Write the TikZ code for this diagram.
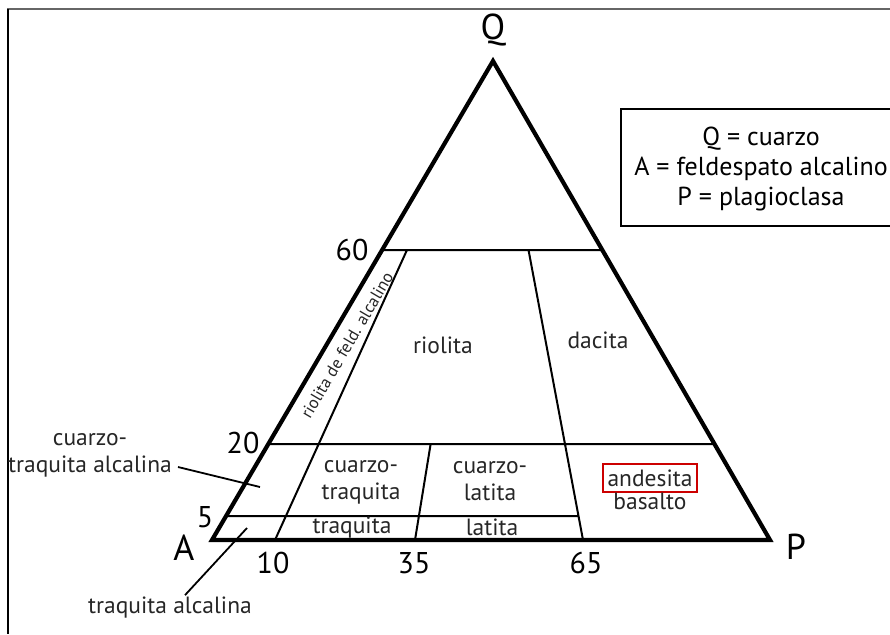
\documentclass[tikz,border=0pt]{standalone}
\usepackage{fontspec}
\setmainfont{PT Sans}
\usetikzlibrary{calc,positioning}

\begin{document}
\begin{tikzpicture}[
	x=1pt,
	y=-1pt,
	outer/.style={
		line width=4.2pt,
		line join=miter
	},
	inner/.style={line width=2pt},
	leader/.style={line width=1.8pt},
	corner/.style={font=\fontsize{36}{38}\selectfont},
	tick/.style={font=\fontsize{30}{32}\selectfont},
	field/.style={
		font=\fontsize{23.5}{27}\selectfont,
		align=center,
		text=black!85,
		inner sep=2pt
	},
	legend/.style={
		font=\fontsize{26}{30}\selectfont,
		align=center
	}]

   \useasboundingbox (0,0) rectangle (890,634);

   % frame of the page
   \draw[black!60, line width=1.8pt] (7,9) -- (890,9);
   \draw[line width=1.8pt] (8,9) -- (8,634);

   % corners and points on the sides
   \coordinate (A) at (212,540);
   \coordinate (P) at (770,540);
   \coordinate (Q) at (493,61);
   \coordinate (b10) at (275,540);
   \coordinate (b35) at (415,540);
   \coordinate (b65) at (583,540);
   \coordinate (q60l) at ($(A)!0.605!(Q)$);
   \coordinate (q60r) at ($(P)!0.605!(Q)$);
   \coordinate (q20l) at ($(A)!0.2!(Q)$);
   \coordinate (q20r) at ($(P)!0.2!(Q)$);
   \coordinate (q5l) at ($(A)!0.05!(Q)$);
   \coordinate (q5r) at ($(b65)!0.05!(Q)$);
   \coordinate (t10) at ($(b10)!0.605!(Q)$);
   \coordinate (t35) at ($(b35)!0.2!(Q)$);
   \coordinate (t65) at ($(b65)!0.605!(Q)$);

   % fields
   \draw[inner] (q60l) -- (q60r)
    (q20l) -- (q20r)
    (q5l) -- (q5r)
    (b10) -- (t10)
    (b35) -- (t35)
    (b65) -- (t65);
   \draw[outer] (A) -- (P) -- (Q) -- cycle;

   % corner names
   \node[corner] (lq) at (493,30) {Q};
   \node[corner] (la) at (184,548) {A};
   \node[corner] (lp) at (796,547) {P};

   % values
   \node[tick] (n60) at (352,250) {60};
   \node[tick] (n20) at (243,443) {20};
   \node[tick] (n5) at (205,517) {5};
   \node[tick] (n10) at (273,563) {10};
   \node[tick] (n35) at (414,563) {35};
   \node[tick] (n65) at (586,563) {65};

   % rock names
   \node[field] (riolita) at (443,345) {riolita};
   \node[field] (dacita) at (598,340) {dacita};
   \node[field, font=\fontsize{17}{19}\selectfont, rotate=59.5] (rfa) at (347,345) {riolita de feld. alcalino};
   \node[field] (cuarzotraq) at (361,482) {cuarzo-\\traquita};
   \node[field] (traquita) at (352,528) {traquita};
   \node[field] (cuarzolat) at (490,481) {cuarzo-\\latita};
   \node[field] (latita) at (492,527) {latita};
   \node[field, draw=red!80!black, line width=2pt, inner xsep=5pt, inner ysep=6pt] (andesita) at (650,478) {andesita};
   \node[field, below=-3pt of andesita] (basalto) {basalto};

   % names outside the triangle
   \node[field] (cqa) at (90,467) {traquita alcalina};
   \node[field, above=6pt of cqa] (cqatop) {cuarzo-};
   \node[field] (ta) at (170,608) {traquita alcalina};
   \coordinate (cqa-tip) at (260,487);
   \coordinate (ta-tip) at (247,528);
   \draw[leader] ([xshift=4pt]cqa.east) -- (cqa-tip);
   \draw[leader] ([xshift=15pt]ta.north) -- (ta-tip);

   % key
   \node[legend] (key) at (761,169) {Q = cuarzo\\A = feldespato alcalino\\P = plagioclasa};
   \draw[line width=1.8pt] (890,109) -| (621,226) -- (890,226);
\end{tikzpicture}
\end{document}
